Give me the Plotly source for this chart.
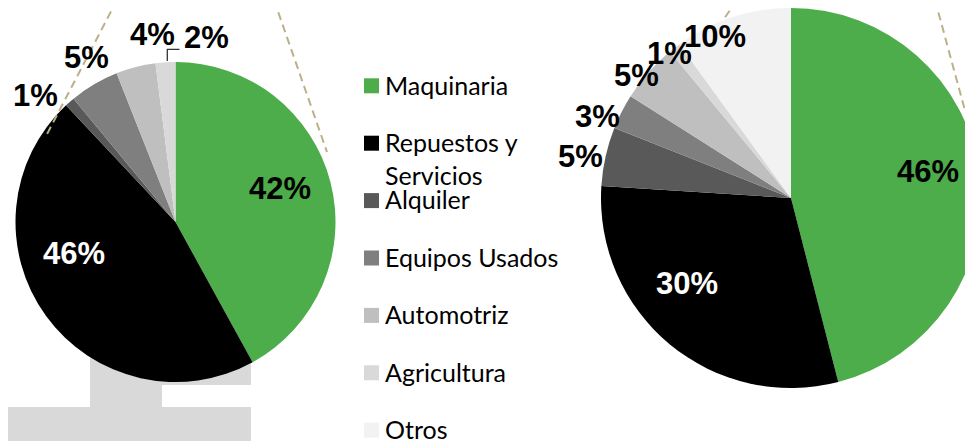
import plotly.graph_objects as go

W, H = 973, 441
OFF = 8  # page body margin: the figure is drawn 8px in from the window's top-left

categories = ["Maquinaria", "Repuestos y<br>Servicios", "Alquiler", "Equipos Usados",
              "Automotriz", "Agricultura", "Otros"]
left_values = [42, 46, 1, 5, 4, 2, 0]
right_values = [46, 30, 5, 3, 5, 1, 10]
colors = ["#4CAD4A", "#000000", "#595959", "#7F7F7F", "#BFBFBF", "#D9D9D9", "#F2F2F2"]


def px(x):
    return (x - OFF) / W


def py(y):
    return 1 - (y - OFF) / H


fig = go.Figure()

plain = [c.replace("<br>", " ") for c in categories]

# Left pie: centre (175.5, 222), r = 160 (window pixels)
fig.add_trace(go.Pie(
    labels=plain, values=left_values,
    marker=dict(colors=colors, line=dict(width=0)),
    sort=False, direction="clockwise", rotation=0,
    textinfo="none", showlegend=False, hoverinfo="label+percent",
    domain=dict(x=[px(15.5), px(335.5)], y=[py(382), py(62)]),
))
# Right pie: centre (791, 198), r = 190 (window pixels)
fig.add_trace(go.Pie(
    labels=plain, values=right_values,
    marker=dict(colors=colors, line=dict(width=0)),
    sort=False, direction="clockwise", rotation=0,
    textinfo="none", showlegend=False, hoverinfo="label+percent",
    domain=dict(x=[px(601), min(1.0, px(981))], y=[py(388), min(1.0, py(8))]),
))

shapes = []
annotations = []

# background stand shape (grey)
pts = [(90, 340), (251, 340), (251, 385), (162, 385), (162, 407), (251, 407),
       (251, 449), (0, 449), (0, 407), (90, 407)]
path = "M " + " L ".join(f"{px(x):.5f},{py(y):.5f}" for x, y in pts) + " Z"
shapes.append(dict(type="path", path=path, xref="paper", yref="paper",
                   fillcolor="#D9D9D9", line=dict(width=0), layer="below"))

# dashed zoom lines
dash_col = "#BCB088"
for (x0, y0, x1, y1, layer) in [(117, 0, 45, 138, "above"), (274, 0, 327, 152, "below"),
                                (737, 0, 715, 32, "below"), (935, 0, 973, 140, "below")]:
    shapes.append(dict(type="line", xref="paper", yref="paper",
                       x0=px(x0), y0=py(y0), x1=px(x1), y1=py(y1),
                       line=dict(color=dash_col, width=2, dash="8px,5px"), layer=layer))

# leader line for the 2% label
shapes.append(dict(type="path", xref="paper", yref="paper",
                   path=f"M {px(167.3):.5f},{py(61):.5f} L {px(167.3):.5f},{py(49.3):.5f} L {px(179.5):.5f},{py(49.3):.5f}",
                   line=dict(color="#333333", width=1.3), layer="above"))

# slice labels
label_font = "Liberation Sans, Arial, sans-serif"
left_pos = [(280, 188, "black"), (73.5, 253, "white"), (35, 95, "black"),
            (86.5, 57.5, "black"), (152.5, 34, "black"), (206, 38, "black"), None]
right_pos = [(928, 171, "black"), (687, 283.5, "white"), (580, 156, "black"),
             (597.5, 116, "black"), (636.5, 75.5, "black"), (669.5, 53, "black"),
             (715, 36.5, "black")]
for vals, poss in [(left_values, left_pos), (right_values, right_pos)]:
    for v, p in zip(vals, poss):
        if p is None or v == 0:
            continue
        x, y, c = p
        annotations.append(dict(x=px(x), y=py(y), xref="paper", yref="paper",
                                text=f"<b>{v}%</b>", showarrow=False,
                                xanchor="center", yanchor="middle",
                                font=dict(family=label_font, size=31, color=c)))

# legend (squares + text)
leg_font = "Lato, sans-serif"
leg_size = 25
y0, step = 85.8, 57.4
for i, (cat, col) in enumerate(zip(categories, colors)):
    yc = y0 + i * step
    shapes.append(dict(type="rect", xref="paper", yref="paper",
                       x0=px(364), x1=px(379), y0=py(yc + 7.5), y1=py(yc - 7.5),
                       fillcolor=col, line=dict(width=0)))
    lh = 1.3 * leg_size
    annotations.append(dict(x=px(383), y=py(yc - lh / 2 - 2), xref="paper", yref="paper",
                            text=cat, showarrow=False, xanchor="left", yanchor="top",
                            align="left",
                            font=dict(family=leg_font, size=leg_size, color="#000000")))

fig.update_layout(
    width=W, height=H, margin=dict(l=0, r=0, t=0, b=0),
    paper_bgcolor="white", plot_bgcolor="white",
    shapes=shapes, annotations=annotations, showlegend=False,
)

fig.write_html("out.html")
